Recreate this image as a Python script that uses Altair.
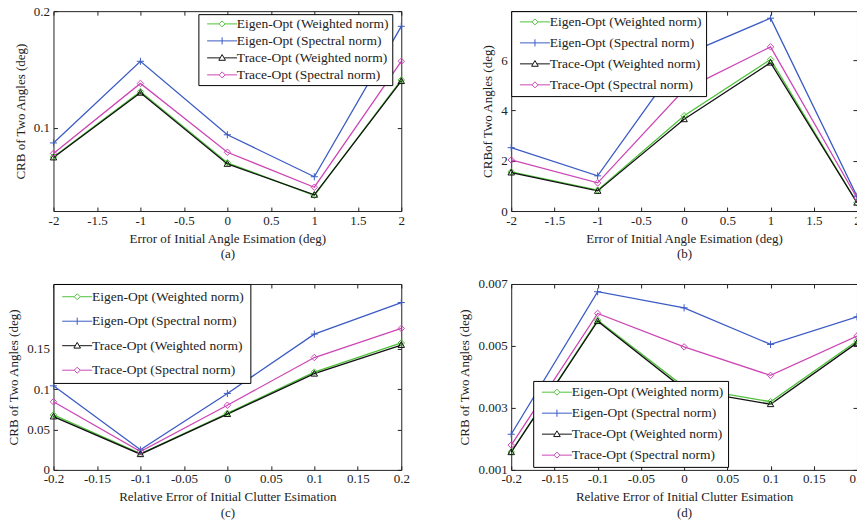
import altair as alt
import pandas as pd

SERIES = ["Eigen-Opt (Weighted norm)", "Eigen-Opt (Spectral norm)",
          "Trace-Opt (Weighted norm)", "Trace-Opt (Spectral norm)"]
COLORS = ["#4fc23a", "#3b5bc5", "#111111", "#cc47b5"]

# marker glyphs (unit paths) and legend glyphs (line + marker)
MARKERS = ["M0,-1L1,0L0,1L-1,0Z", "M-1.1,0L1.1,0M0,-1.1L0,1.1",
           "M0,-1L1,0.75L-1,0.75Z", "M0,-1L1,0L0,1L-1,0Z"]
LEG_SHAPES = ["M-5,0L-1,0M1,0L5,0M0,-1L1,0L0,1L-1,0Z",
              "M-5,0L5,0M0,-1.2L0,1.2",
              "M-5,0L-0.7,0M0.7,0L5,0M0,-1.1L1.1,0.8L-1.1,0.8Z",
              "M-5,0L-1,0M1,0L5,0M0,-1L1,0L0,1L-1,0Z"]

x_angle = [-2, -1, 0, 1, 2]
x_angle_ticks = [-2, -1.5, -1, -0.5, 0, 0.5, 1, 1.5, 2]
a_eigen_w = [0.075, 0.131, 0.070, 0.042, 0.141]
a_eigen_s = [0.087, 0.157, 0.094, 0.058, 0.187]
a_trace_w = [0.0745, 0.130, 0.069, 0.0425, 0.140]
a_trace_s = [0.078, 0.138, 0.079, 0.049, 0.157]

b_eigen_w = [1.56, 0.83, 3.79, 6.03, 0.33]
b_eigen_s = [2.52, 1.40, 6.20, 7.67, 0.59]
b_trace_w = [1.53, 0.80, 3.65, 5.90, 0.33]
b_trace_s = [2.03, 1.12, 4.82, 6.53, 0.52]

x_clutter = [-0.2, -0.1, 0, 0.1, 0.2]
x_clutter_ticks = [-0.2, -0.15, -0.1, -0.05, 0, 0.05, 0.1, 0.15, 0.2]
c_eigen_w = [0.068, 0.020, 0.070, 0.121, 0.157]
c_eigen_s = [0.104, 0.0248, 0.0946, 0.168, 0.207]
c_trace_w = [0.066, 0.0194, 0.069, 0.119, 0.1545]
c_trace_s = [0.0843, 0.0227, 0.080, 0.139, 0.175]

d_eigen_w = [0.00158, 0.00583, 0.00368, 0.0032, 0.00516]
d_eigen_s = [0.00215, 0.00675, 0.00623, 0.00505, 0.00594]
d_trace_w = [0.00157, 0.00580, 0.0036, 0.00312, 0.0051]
d_trace_s = [0.0018, 0.00605, 0.00497, 0.00405, 0.00532]

FONT = "Liberation Serif"
TXT = "#222222"
EMSP = "\u2003"


def panel(xs, ys_list, xdomain, xticks, ydomain, yticks, xtitle, ytitle,
          lx, ly, w, h, pad, rowpad, extra=0, note=None):
    rows = []
    for s, ys in zip(SERIES, ys_list):
        for x, y in zip(xs, ys):
            rows.append({"x": x, "y": y, "series": s})
    df = pd.DataFrame(rows)
    xsc = alt.Scale(domain=xdomain, nice=False, zero=False)
    ysc = alt.Scale(domain=ydomain, nice=False, zero=False)
    common = dict(labelFont=FONT, labelFontSize=13, labelColor=TXT,
                  titleFont=FONT, titleFontSize=13, titleColor=TXT,
                  titleFontWeight="normal", grid=False, domain=False,
                  tickColor="#222", tickSize=4, offset=-4, tickWidth=1)
    xaxis = alt.Axis(values=xticks, labelExpr="'' + datum.value", title=xtitle,
                     labelPadding=3, titlePadding=5, titleLineHeight=16,
                     labelFlush=False, **common)
    yaxis = alt.Axis(values=yticks, labelExpr="'' + datum.value", title=ytitle,
                     labelPadding=4, titlePadding=6, **common)
    xtop = alt.Axis(values=xticks, orient="top", labels=False, title=None,
                    grid=False, domain=False, tickColor="#222", tickSize=4,
                    offset=-4)
    yright = alt.Axis(values=yticks, orient="right", labels=False, title=None,
                      grid=False, domain=False, tickColor="#222", tickSize=4,
                      offset=-4)
    base = alt.Chart(df)
    lines = base.mark_line(strokeWidth=1.3).encode(
        x=alt.X("x:Q", scale=xsc, axis=xaxis),
        y=alt.Y("y:Q", scale=ysc, axis=yaxis),
        color=alt.Color("series:N", scale=alt.Scale(domain=SERIES, range=COLORS),
                        legend=None),
    )
    marks = base.mark_point(filled=False, strokeWidth=1, size=42, opacity=1).encode(
        x=alt.X("x:Q", scale=xsc, axis=None),
        y=alt.Y("y:Q", scale=ysc, axis=None),
        color=alt.Color("series:N", scale=alt.Scale(domain=SERIES, range=COLORS),
                        legend=None),
        shape=alt.Shape("series:N", scale=alt.Scale(domain=SERIES, range=MARKERS),
                        legend=None),
    )
    lab = "datum.label" + (" + '" + EMSP * extra + "'" if extra else "")
    leg = alt.Legend(orient="none", legendX=lx, legendY=ly, title=None,
                     strokeColor="black", fillColor="white", padding=pad,
                     labelFont=FONT, labelFontSize=13.5, labelColor=TXT,
                     labelExpr=lab, labelLimit=400,
                     symbolSize=36, symbolStrokeWidth=1, symbolOffset=17 - pad,
                     labelOffset=8, rowPadding=rowpad, symbolOpacity=1,
                     cornerRadius=0)
    legl = base.mark_point(filled=False, strokeWidth=1, size=36, opacity=0).encode(
        x=alt.X("x:Q", scale=xsc, axis=xtop),
        y=alt.Y("y:Q", scale=ysc, axis=yright),
        color=alt.Color("series:N", scale=alt.Scale(domain=SERIES, range=COLORS),
                        legend=leg),
        shape=alt.Shape("series:N", scale=alt.Scale(domain=SERIES, range=LEG_SHAPES),
                        legend=leg),
    )
    layers = [lines, marks, legl]
    if note is not None:
        t = alt.Chart(pd.DataFrame({"t": [note]})).mark_text(
            font=FONT, fontSize=13, color=TXT, align="left", baseline="bottom"
        ).encode(text="t:N", x=alt.value(3), y=alt.value(-3))
        layers.append(t)
    return alt.layer(*layers).resolve_scale(
        color="independent", shape="independent"
    ).resolve_axis(x="independent", y="independent").properties(width=w, height=h)


pa = panel(x_angle, [a_eigen_w, a_eigen_s, a_trace_w, a_trace_s], [-2, 2],
           x_angle_ticks, [0.0286, 0.2], [0.1, 0.2],
           ["Error of Initial Angle Esimation (deg)", "(a)"],
           "CRB of Two Angles (deg)", 145, 3, 348, 200, pad=3, rowpad=2)
pb = panel(x_angle, [b_eigen_w, b_eigen_s, b_trace_w, b_trace_s], [-2, 2],
           x_angle_ticks, [0, 7.95], [0, 2, 4, 6],
           ["Error of Initial Angle Esimation (deg)", "(b)"],
           "CRBof Two Angles (deg)", 0, 0, 346, 200, pad=4, rowpad=6,
           note="x 10")
pc = panel(x_clutter, [c_eigen_w, c_eigen_s, c_trace_w, c_trace_s], [-0.2, 0.2],
           x_clutter_ticks, [0, 0.23], [0, 0.05, 0.1, 0.15],
           ["Relative Error of Initial Clutter Esimation", "(c)"],
           "CRB of Two Angles (deg)", 0, 0, 348, 186, pad=6, rowpad=9.5,
           extra=1)
pd_ = panel(x_clutter, [d_eigen_w, d_eigen_s, d_trace_w, d_trace_s], [-0.2, 0.2],
            x_clutter_ticks, [0.001, 0.007], [0.001, 0.003, 0.005, 0.007],
            ["Relative Error of Initial Clutter Esimation", "(d)"],
            "CRB of Two Angles (deg)", 22, 97, 346, 186, pad=4.5, rowpad=6)

chart = alt.concat(pa, pb, pc, pd_, columns=2,
                   spacing=alt.RowColnumber(row=15, column=41)).properties(
    padding={"left": -1.5, "top": -14, "right": -16, "bottom": 0}
).configure_view(stroke="#222", strokeWidth=1)

chart.save("out.html", embed_options={"renderer": "svg", "actions": False})
